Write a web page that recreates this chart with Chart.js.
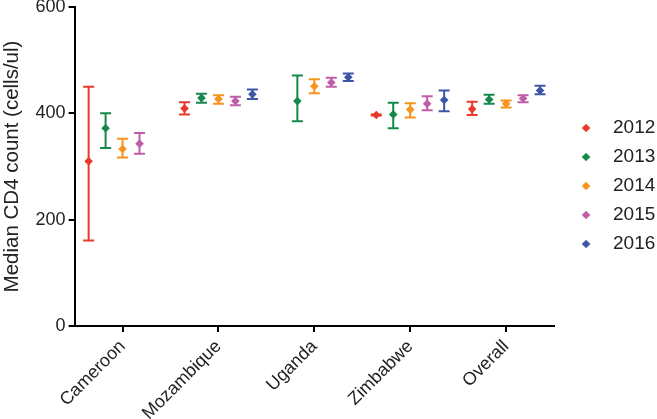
<!DOCTYPE html>
<html>
<head>
<meta charset="utf-8">
<script src="https://cdn.jsdelivr.net/npm/chart.js@4"></script>
<style>
  html, body { margin: 0; padding: 0; background: #fff; }
  #wrap { width: 657px; height: 419px; }
</style>
</head>
<body>
<div id="wrap"><canvas id="chart"></canvas></div>
<script>
const categories = ['Cameroon', 'Mozambique', 'Uganda', 'Zimbabwe', 'Overall'];
const years = ['2012', '2013', '2014', '2015', '2016'];
const yTicks = [0, 200, 400, 600];

// median and interval ends per year, one entry per category (null = no data)
const median2012 = [310, 409, null, 397, 408];
const lower2012 = [161, 398, null, 396, 397];
const upper2012 = [450, 421, null, 398, 422];

const median2013 = [372, 429, 423, 398, 426];
const lower2013 = [335, 420, 385, 372, 418];
const upper2013 = [400, 437, 471, 420, 435];

const median2014 = [333, 427, 451, 407, 418];
const lower2014 = [317, 418, 438, 392, 411];
const upper2014 = [352, 434, 464, 419, 424];

const median2015 = [343, 423, 458, 418, 428];
const lower2015 = [324, 415, 450, 406, 421];
const upper2015 = [363, 431, 467, 432, 434];

const median2016 = [null, 436, 468, 425, 443];
const lower2016 = [null, 427, 461, 404, 436];
const upper2016 = [null, 445, 475, 443, 452];

const COLORS = ['#E8392B', '#14894A', '#F7941E', '#C15DA8', '#3C56A5'];
const TEXT = '#222222';
const FONT = 'Liberation Sans, Arial, Helvetica, sans-serif';

const series = [
  [median2012, lower2012, upper2012],
  [median2013, lower2013, upper2013],
  [median2014, lower2014, upper2014],
  [median2015, lower2015, upper2015],
  [median2016, lower2016, upper2016],
];

const datasets = series.map(([med, lo, hi], i) => {
  const shift = (i - 2) * 0.177;
  const points = [];
  med.forEach((m, j) => {
    if (m === null) return;
    points.push({ x: j + 1 + shift, y: m, lo: lo[j], hi: hi[j] });
  });
  return {
    label: years[i],
    data: points,
    backgroundColor: COLORS[i],
    borderColor: COLORS[i],
    pointStyle: 'rectRot',
    pointRadius: 4.3,
    pointBorderWidth: 0,
    showLine: false,
  };
});

// small diamond image for the legend, drawn a bit right of the box centre
function legendDiamond(color) {
  const c = document.createElement('canvas');
  c.width = 24;
  c.height = 12;
  const g = c.getContext('2d');
  const cx = 12 + 2.25, cy = 6, r = 4.3;
  g.fillStyle = color;
  g.beginPath();
  g.moveTo(cx, cy - r);
  g.lineTo(cx + r, cy);
  g.lineTo(cx, cy + r);
  g.lineTo(cx - r, cy);
  g.closePath();
  g.fill();
  return c;
}

// vertical bars with caps, drawn under the diamonds
const errorBars = {
  id: 'errorBars',
  beforeDatasetsDraw(chart) {
    const { ctx, scales } = chart;
    const cap = 5.5;
    ctx.save();
    ctx.lineWidth = 2;
    chart.data.datasets.forEach((ds) => {
      ctx.strokeStyle = ds.borderColor;
      ds.data.forEach((d) => {
        const x = scales.x.getPixelForValue(d.x);
        const yLo = scales.y.getPixelForValue(d.lo);
        const yHi = scales.y.getPixelForValue(d.hi);
        ctx.beginPath();
        ctx.moveTo(x, yLo);
        ctx.lineTo(x, yHi);
        ctx.moveTo(x - cap, yLo);
        ctx.lineTo(x + cap, yLo);
        ctx.moveTo(x - cap, yHi);
        ctx.lineTo(x + cap, yHi);
        ctx.stroke();
      });
    });
    ctx.restore();
  },
};

new Chart(document.getElementById('chart'), {
  type: 'scatter',
  data: { datasets },
  plugins: [errorBars],
  options: {
    responsive: true,
    maintainAspectRatio: false,
    animation: false,
    layout: { padding: { top: 0, right: -8.3, left: 0, bottom: 0 } },
    plugins: {
      tooltip: { enabled: false },
      legend: {
        position: 'right',
        align: 'start',
        title: { display: true, text: '', font: { size: 12 }, padding: { top: 94.1, bottom: 0 } },
        labels: {
          usePointStyle: true,
          pointStyleWidth: 39.5,
          boxHeight: 6,
          padding: 10,
          color: TEXT,
          font: { family: FONT, size: 19 },
          generateLabels: (chart) => {
            const items = Chart.defaults.plugins.legend.labels.generateLabels(chart);
            items.forEach((item, i) => { item.pointStyle = legendDiamond(COLORS[i]); });
            return items;
          },
        },
      },
    },
    scales: {
      x: {
        type: 'linear',
        min: 0.5,
        max: 5.5,
        afterBuildTicks: (axis) => {
          axis.ticks = categories.map((_, i) => ({ value: i + 1 }));
        },
        afterFit: (axis) => { axis.height = 93; },
        ticks: {
          autoSkip: false,
          minRotation: 45,
          maxRotation: 45,
          padding: 4,
          color: TEXT,
          font: { family: FONT, size: 18 },
          callback: (v) => categories[v - 1],
        },
        grid: { drawOnChartArea: false, tickLength: 6, lineWidth: 2, color: '#000' },
        border: { color: '#000', width: 2 },
      },
      y: {
        min: 0,
        max: 600,
        afterBuildTicks: (axis) => {
          axis.ticks = yTicks.map((v) => ({ value: v }));
        },
        afterFit: (axis) => { axis.paddingTop = 7; axis.paddingBottom = 0; },
        ticks: {
          padding: 3,
          color: TEXT,
          font: { family: FONT, size: 18 },
        },
        title: {
          display: true,
          text: 'Median CD4 count (cells/ul)',
          color: TEXT,
          font: { family: FONT, size: 20.5 },
          padding: { top: 0, bottom: 8 },
        },
        grid: { drawOnChartArea: false, tickLength: 6, lineWidth: 2, color: '#000' },
        border: { color: '#000', width: 2 },
      },
    },
  },
});
</script>
</body>
</html>
